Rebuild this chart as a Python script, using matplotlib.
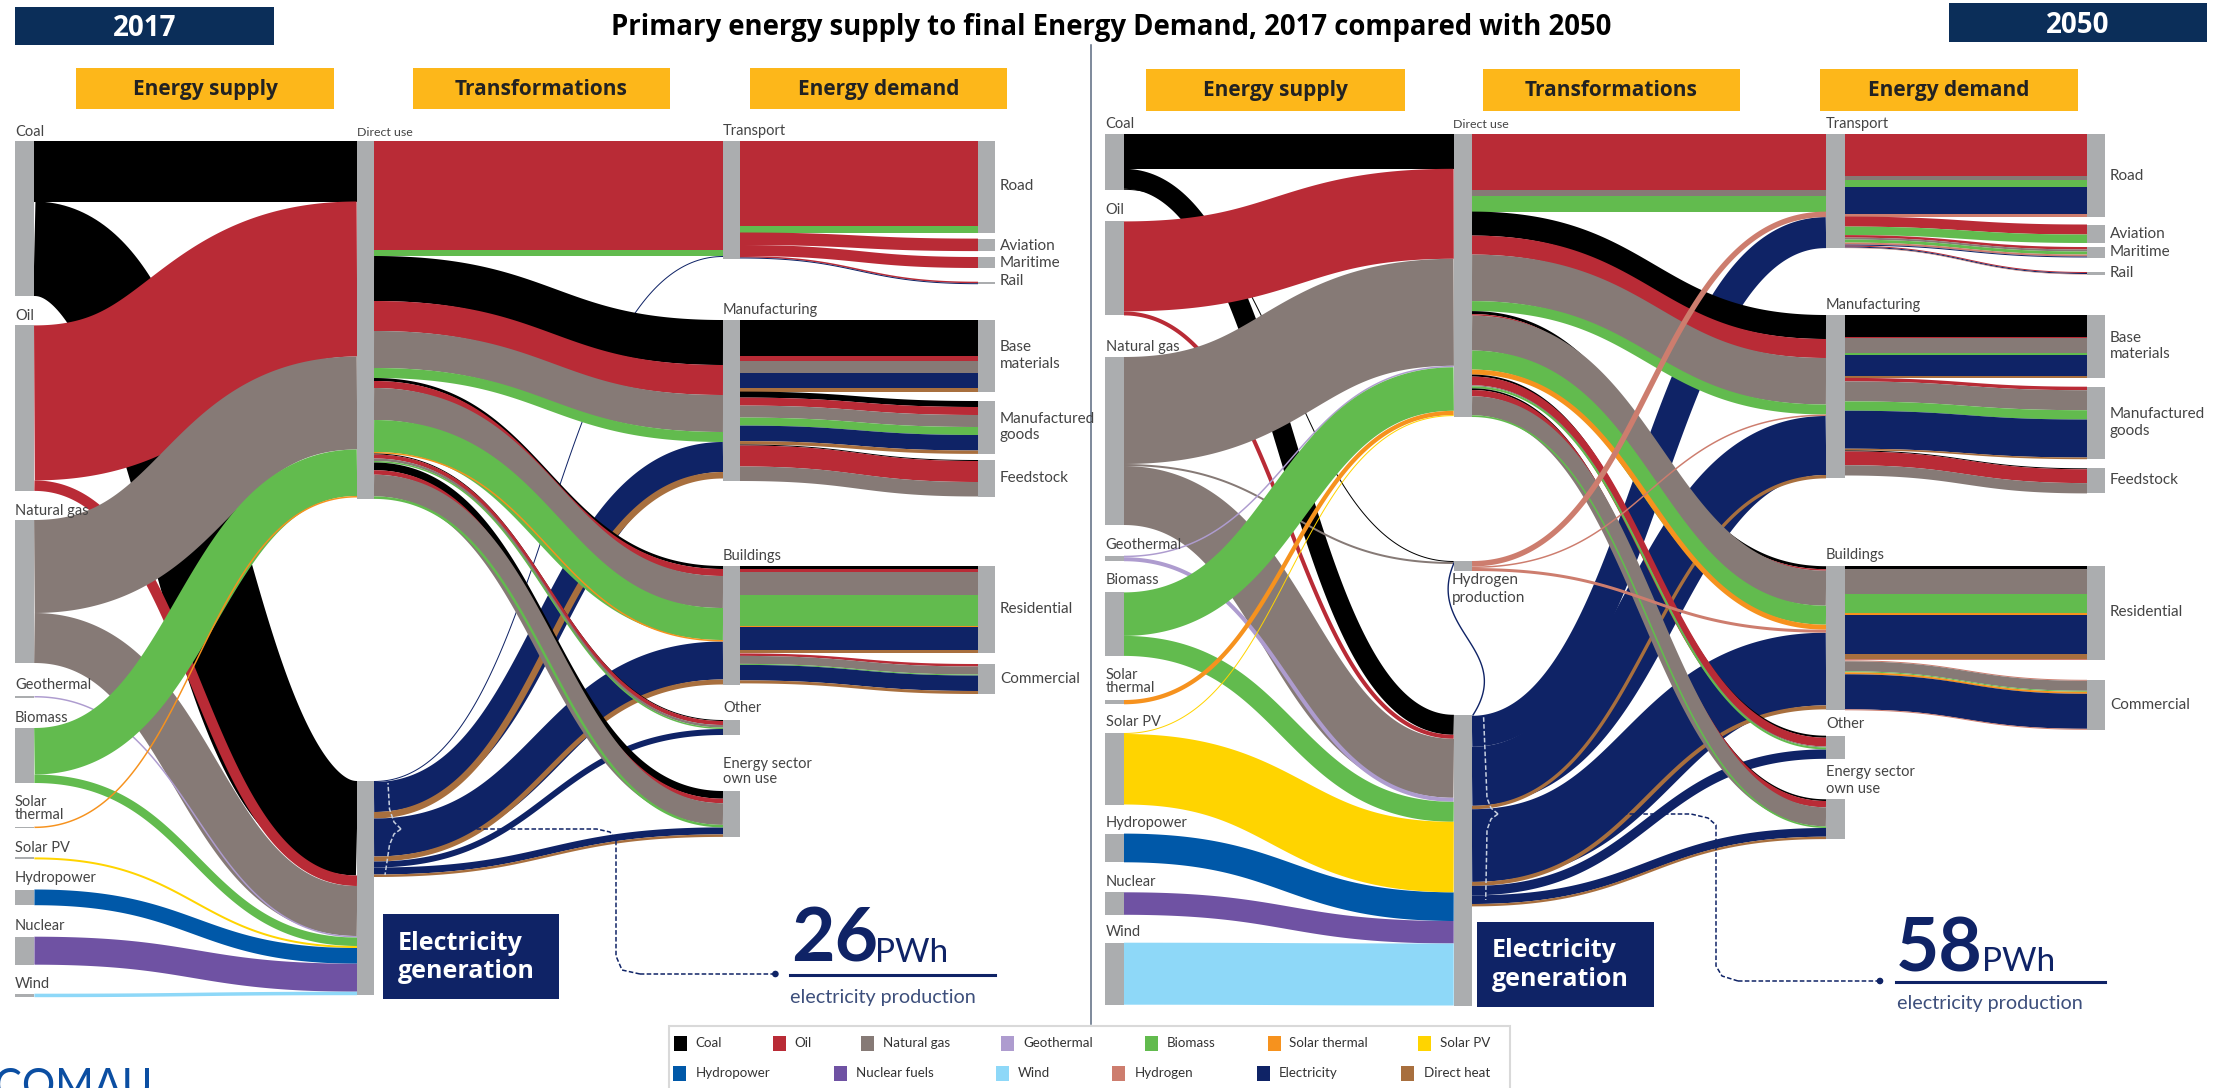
import matplotlib
matplotlib.use('Agg')
import matplotlib.pyplot as plt
from matplotlib.patches import Rectangle, Circle
import numpy as np

plt.rcParams['path.simplify'] = False

# colours of the energy carriers
colors = {'coal': '#000000', 'oil': '#B92B36', 'gas': '#867A76', 'geo': '#AE9CCF', 'bio': '#62BB4E',
          'sth': '#F6921E', 'spv': '#FFD400', 'hyd': '#0058A8', 'nuc': '#6F52A3', 'wind': '#8ED8F8',
          'h2': '#CD7D6E', 'elec': '#0F2366', 'heat': '#A86F3E'}
NODE_GREY = '#ABADAF'
NAVY = '#0F2366'

# flows of each panel: source node, target node, carrier, size
left_src = ['Coal', 'Coal', 'Oil', 'Oil', 'Gas', 'Gas', 'Geo', 'Bio', 'Bio', 'STh', 'SPV', 'Hydro', 'Nuc', 'Wind']
left_dst = ['Direct', 'Elec', 'Direct', 'Elec', 'Direct', 'Elec', 'Elec', 'Direct', 'Elec', 'Direct', 'Elec', 'Elec', 'Elec', 'Elec']
left_car = ['coal', 'coal', 'oil', 'oil', 'gas', 'gas', 'geo', 'bio', 'bio', 'sth', 'spv', 'hyd', 'nuc', 'wind']
left_val = [60.5, 94.5, 155, 10.5, 93, 50, 1.5, 46.5, 8.5, 1.5, 2, 15.7, 28, 3.5]

left_mid_src = ['Direct'] * 19 + ['Elec'] * 8
left_mid_dst = ['Transport', 'Transport', 'Manuf', 'Manuf', 'Manuf', 'Manuf', 'Build', 'Build', 'Build', 'Build', 'Build',
                'Other', 'Other', 'Other', 'Other', 'Energy', 'Energy', 'Energy', 'Energy',
                'Transport', 'Manuf', 'Manuf', 'Build', 'Build', 'Other', 'Energy', 'Energy']
left_mid_car = ['oil', 'bio', 'coal', 'oil', 'gas', 'bio', 'coal', 'oil', 'gas', 'bio', 'sth',
                'coal', 'oil', 'gas', 'bio', 'coal', 'oil', 'gas', 'bio',
                'elec', 'elec', 'heat', 'elec', 'heat', 'elec', 'elec', 'heat']
left_mid_val = [109, 6, 45, 30, 37, 10, 3, 7, 32, 32, 1.5, 1, 4, 2.5, 1.5, 7.7, 4.5, 21.7, 2.5,
                1, 30, 6.5, 38, 5, 6, 7, 2.5]

left_end_src = ['Transport'] * 6 + ['Manuf'] * 14 + ['Build'] * 12
left_end_dst = ['Road', 'Road', 'Aviation', 'Maritime', 'Rail', 'Rail',
                'Base', 'Base', 'Base', 'Base', 'Base', 'Goods', 'Goods', 'Goods', 'Goods', 'Goods', 'Goods',
                'Feed', 'Feed', 'Feed',
                'Resid', 'Resid', 'Resid', 'Resid', 'Resid', 'Resid', 'Resid', 'Comm', 'Comm', 'Comm', 'Comm', 'Comm']
left_end_car = ['oil', 'bio', 'oil', 'oil', 'oil', 'elec',
                'coal', 'oil', 'gas', 'elec', 'heat', 'coal', 'oil', 'gas', 'bio', 'elec', 'heat',
                'coal', 'oil', 'gas',
                'coal', 'oil', 'gas', 'bio', 'sth', 'elec', 'heat', 'oil', 'gas', 'bio', 'elec', 'heat']
left_end_val = [85, 6.5, 12.5, 11, 1.5, 1,
                36, 4.5, 12.7, 15, 3.4, 6, 8, 12, 8, 15.5, 3.4,
                1, 21, 14.5,
                2.5, 3.5, 22.7, 31, 1.5, 22.7, 3.5, 2.5, 8, 1, 15.5, 3]

right_src = ['Coal', 'Coal', 'Coal', 'Oil', 'Oil', 'Gas', 'Gas', 'Gas', 'Geo', 'Geo', 'Bio', 'Bio', 'STh', 'SPV', 'SPV', 'Hydro', 'Nuc', 'Wind']
right_dst = ['Direct', 'Elec', 'H2', 'Direct', 'Elec', 'Direct', 'H2', 'Elec', 'Direct', 'Elec', 'Direct', 'Elec', 'Direct', 'Direct', 'Elec', 'Elec', 'Elec', 'Elec']
right_car = ['coal', 'coal', 'coal', 'oil', 'oil', 'gas', 'gas', 'gas', 'geo', 'geo', 'bio', 'bio', 'sth', 'spv', 'spv', 'hyd', 'nuc', 'wind']
right_val = [34.5, 20, 1, 90, 4, 107, 2, 59, 1.5, 4, 43.5, 20, 4.3, 1, 70.5, 28.7, 22.5, 62]

right_mid_src = ['Direct'] * 20 + ['H2'] * 3 + ['Elec'] * 9
right_mid_dst = ['Transport', 'Transport', 'Transport', 'Manuf', 'Manuf', 'Manuf', 'Manuf', 'Build', 'Build', 'Build', 'Build', 'Build',
                 'Other', 'Other', 'Other', 'Other', 'Energy', 'Energy', 'Energy', 'Energy',
                 'Transport', 'Manuf', 'Build',
                 'H2x', 'Transport', 'Manuf', 'Manuf', 'Build', 'Build', 'Other', 'Energy', 'Energy']
right_mid_car = ['oil', 'gas', 'bio', 'coal', 'oil', 'gas', 'bio', 'coal', 'oil', 'gas', 'bio', 'sth',
                 'coal', 'oil', 'gas', 'bio', 'coal', 'oil', 'gas', 'bio',
                 'h2', 'h2', 'h2',
                 'elec', 'elec', 'elec', 'heat', 'elec', 'heat', 'elec', 'elec', 'heat']
right_mid_val = [55.8, 6, 15.5, 24, 19, 46.5, 10, 3, 1.5, 35, 19, 5, 2, 8.7, 1, 2, 1.7, 6.3, 19, 1.7,
                 5.5, 1.5, 3,
                 1, 31, 59, 3.4, 72.7, 4, 9.4, 8.7, 2.4]

right_end_src = ['Transport'] * 15 + ['Manuf'] * 14 + ['Build'] * 13
right_end_dst = ['Road', 'Road', 'Road', 'Road', 'Road', 'Aviation', 'Aviation', 'Maritime', 'Maritime', 'Maritime', 'Maritime', 'Maritime', 'Rail', 'Rail', 'Rail',
                 'Base', 'Base', 'Base', 'Base', 'Base', 'Base', 'Goods', 'Goods', 'Goods', 'Goods', 'Goods', 'Feed', 'Feed', 'Feed',
                 'Resid', 'Resid', 'Resid', 'Resid', 'Resid', 'Resid', 'Resid', 'Comm', 'Comm', 'Comm', 'Comm', 'Comm', 'Comm']
right_end_car = ['oil', 'gas', 'bio', 'elec', 'h2', 'oil', 'bio', 'oil', 'gas', 'bio', 'h2', 'elec', 'oil', 'elec', 'h2',
                 'coal', 'oil', 'gas', 'bio', 'elec', 'heat', 'oil', 'gas', 'bio', 'elec', 'heat', 'coal', 'oil', 'gas',
                 'coal', 'gas', 'bio', 'sth', 'elec', 'heat', 'h2', 'h2', 'gas', 'bio', 'sth', 'elec', 'h2']
right_end_val = [42, 3.4, 7, 27.5, 2.4, 10, 8.5, 2.5, 2, 3, 2, 1, 1, 1, .5,
                 21.7, 1.7, 14.5, 1.7, 21.3, 2, 3.5, 20, 9.3, 38, 1.7, 1, 13.8, 10.3,
                 2.8, 24.5, 19, 2.4, 39.5, 4.2, 1.7, 1, 10, 1, 2, 35, 1]

# where the node columns sit, in pixels of the 2220x1088 picture
left_x = {'c1': (15.4, 34.4), 'c2': (357, 374), 'c3': (723, 740), 'c4': (978, 995)}
right_x = {'c1': (1105.4, 1123.6), 'c2': (1453.7, 1472), 'c3': (1826, 1845), 'c4': (2087, 2105)}

left_tops = {'Coal': 141, 'Oil': 325.4, 'Gas': 520, 'Geo': 696, 'Bio': 728, 'STh': 826.6, 'SPV': 857.4, 'Hydro': 889.5, 'Nuc': 936.7, 'Wind': 993.7,
             'Direct': 141, 'Elec': 781, 'Transport': 141, 'Manuf': 320, 'Build': 566, 'Other': 720, 'Energy': 791,
             'Road': 141, 'Aviation': 238.6, 'Maritime': 257, 'Rail': 281.7, 'Base': 320, 'Goods': 401, 'Feed': 460, 'Resid': 566, 'Comm': 664}
right_tops = {'Coal': 134.3, 'Oil': 221.4, 'Gas': 357, 'Geo': 555.7, 'Bio': 592.4, 'STh': 700, 'SPV': 733, 'Hydro': 833.6, 'Nuc': 892.3, 'Wind': 942.7,
              'Direct': 134.3, 'H2': 561, 'Elec': 714.8, 'Transport': 134.3, 'Manuf': 315, 'Build': 566.2, 'Other': 735.7, 'Energy': 799.3,
              'Road': 134.3, 'Aviation': 224.5, 'Maritime': 247, 'Rail': 272, 'Base': 315, 'Goods': 386.7, 'Feed': 468.3, 'Resid': 566.2, 'Comm': 679.8}

c1 = ['Coal', 'Oil', 'Gas', 'Geo', 'Bio', 'STh', 'SPV', 'Hydro', 'Nuc', 'Wind']
c2 = ['Direct', 'Elec', 'H2']
c3 = ['Transport', 'Manuf', 'Build', 'Other', 'Energy']
c4 = ['Road', 'Aviation', 'Maritime', 'Rail', 'Base', 'Goods', 'Feed', 'Resid', 'Comm']

legend_row1 = ['Coal', 'Oil', 'Natural gas', 'Geothermal', 'Biomass', 'Solar thermal', 'Solar PV']
legend_row1_car = ['coal', 'oil', 'gas', 'geo', 'bio', 'sth', 'spv']
legend_row2 = ['Hydropower', 'Nuclear fuels', 'Wind', 'Hydrogen', 'Electricity', 'Direct heat']
legend_row2_car = ['hyd', 'nuc', 'wind', 'h2', 'elec', 'heat']

DPI = 100
fig = plt.figure(figsize=(22.2, 10.88), dpi=DPI)
ax = fig.add_axes([0, 0, 1, 1])
ax.set_xlim(0, 2220)
ax.set_ylim(1088, 0)
ax.axis('off')


def col_of(name):
    if name in c1:
        return 'c1'
    if name in c2:
        return 'c2'
    if name in c3:
        return 'c3'
    return 'c4'


def draw_ribbon(x0, y0, x1, y1, w, color, z):
    if abs(y1 - y0) < 0.6:
        # level flow, a plain band
        ax.fill([x0, x1, x1, x0], [y0 - w/2, y1 - w/2, y1 + w/2, y0 + w/2], color=color, lw=0, zorder=z)
        return
    t = np.linspace(0, 1, 160)
    mx = (x0 + x1) / 2
    xs = (1-t)**3*x0 + 3*(1-t)**2*t*mx + 3*(1-t)*t**2*mx + t**3*x1
    ys = (1-t)**3*y0 + 3*(1-t)**2*t*y0 + 3*(1-t)*t**2*y1 + t**3*y1
    dx, dy = np.gradient(xs, t), np.gradient(ys, t)
    ddx, ddy = np.gradient(dx, t), np.gradient(dy, t)
    speed = np.hypot(dx, dy)
    curv = np.abs(dx*ddy - dy*ddx) / speed**3
    clip = Rectangle((x0, 0), x1 - x0, 1088, transform=ax.transData)
    if curv.max() * w / 2 < 0.9:
        # gentle bend: outline the ribbon, the stroker leaves bumps on wide flat lines
        nx, ny = -dy / speed, dx / speed
        px = np.concatenate([xs + nx*w/2, (xs - nx*w/2)[::-1]])
        py = np.concatenate([ys + ny*w/2, (ys - ny*w/2)[::-1]])
        poly = ax.fill(px, py, color=color, lw=0, zorder=z)[0]
        poly.set_clip_path(clip)
    else:
        line, = ax.plot(xs, ys, color=color, lw=w * 72 / DPI, solid_capstyle='butt', solid_joinstyle='round', zorder=z)
        line.set_clip_path(clip)


def draw_panel(flows, tops, col_x):
    out_used, in_used = {}, {}
    for src, dst, car, val, z in flows:
        if dst == 'H2x':
            out_used[src] = out_used.get(src, 0) + val
            continue
        y0 = tops[src] + out_used.get(src, 0)
        y1 = tops[dst] + in_used.get(dst, 0)
        out_used[src] = out_used.get(src, 0) + val
        in_used[dst] = in_used.get(dst, 0) + val
        draw_ribbon(col_x[col_of(src)][1], y0 + val / 2, col_x[col_of(dst)][0], y1 + val / 2, val, colors[car], z)
    # grey node bars
    for name, top in tops.items():
        h = max(out_used.get(name, 0), in_used.get(name, 0))
        x0, x1 = col_x[col_of(name)]
        ax.add_patch(Rectangle((x0, top), x1 - x0, h, color=NODE_GREY, lw=0, zorder=10))


left_flows = []
for s, d, c, v in zip(left_src, left_dst, left_car, left_val):
    left_flows.append((s, d, c, v, {'Elec': 2, 'Direct': 4}[d] + (0.5 if c == 'sth' else 0)))
for s, d, c, v in zip(left_mid_src, left_mid_dst, left_mid_car, left_mid_val):
    left_flows.append((s, d, c, v, 3 if s == 'Elec' else 4))
for s, d, c, v in zip(left_end_src, left_end_dst, left_end_car, left_end_val):
    left_flows.append((s, d, c, v, 4))
draw_panel(left_flows, left_tops, left_x)

right_flows = []
for s, d, c, v in zip(right_src, right_dst, right_car, right_val):
    z = {'Elec': 2, 'H2': 3, 'Direct': 4}[d]
    right_flows.append((s, d, c, v, z + (0.5 if c in ('sth', 'spv') else 0)))
for s, d, c, v in zip(right_mid_src, right_mid_dst, right_mid_car, right_mid_val):
    right_flows.append((s, d, c, v, {'Elec': 3, 'Direct': 4, 'H2': 5}[s]))
for s, d, c, v in zip(right_end_src, right_end_dst, right_end_car, right_end_val):
    right_flows.append((s, d, c, v, 4))
draw_panel(right_flows, right_tops, right_x)

# thin electricity line looping back from generation to hydrogen
t = np.linspace(0, 1, 80)
p = np.array([[1473, 715], [1515, 650], [1425, 630], [1454, 563]])
bx = (1-t)**3*p[0, 0] + 3*(1-t)**2*t*p[1, 0] + 3*(1-t)*t**2*p[2, 0] + t**3*p[3, 0]
by = (1-t)**3*p[0, 1] + 3*(1-t)**2*t*p[1, 1] + 3*(1-t)*t**2*p[2, 1] + t**3*p[3, 1]
ax.plot(bx, by, color=NAVY, lw=1.0, zorder=5)

TITLE_FONT = ['Open Sans', 'DejaVu Sans']
LABEL_FONT = ['Lato', 'DejaVu Sans']

# banners and column headers
for x0, x1, y0, y1, s in [(15, 274, 7, 45, '2017'), (1949, 2207, 3.4, 41.7, '2050')]:
    ax.add_patch(Rectangle((x0, y0), x1 - x0, y1 - y0, color='#0B2E59', lw=0, zorder=1))
    ax.text((x0 + x1) / 2, (y0 + y1) / 2 + 2.5, s, color='white', fontsize=20, fontweight='bold', family=TITLE_FONT, ha='center', va='center', zorder=2)
ax.text(1111, 28, 'Primary energy supply to final Energy Demand, 2017 compared with 2050', fontsize=19.8, fontweight='bold',
        family=TITLE_FONT, ha='center', va='center')
for x0, x1, y0, y1, s in [(76, 334, 68, 109, 'Energy supply'), (412.6, 670, 68, 109, 'Transformations'), (749.5, 1007, 68, 109, 'Energy demand'),
                          (1146, 1405, 69, 110.5, 'Energy supply'), (1483, 1740, 69, 110.5, 'Transformations'), (1820, 2077.5, 69, 110.5, 'Energy demand')]:
    ax.add_patch(Rectangle((x0, y0), x1 - x0, y1 - y0, color='#FDB71A', lw=0, zorder=1))
    ax.text((x0 + x1) / 2, (y0 + y1) / 2 + 1, s, fontsize=15, fontweight='bold', family=TITLE_FONT, color='#222222', ha='center', va='center', zorder=2)
ax.plot([1091, 1091], [45, 1024], color='#5A6A80', lw=1.1, zorder=1)

# node labels
LAB = '#444444'
left_labels = [(15, 131.5, 'Coal'), (15, 316, 'Oil'), (15, 511, 'Natural gas'), (15, 685, 'Geothermal'), (15, 718, 'Biomass'),
               (15, 802, 'Solar'), (15, 815, 'thermal'), (15, 847.6, 'Solar PV'), (15, 878, 'Hydropower'), (15, 926, 'Nuclear'), (15, 984, 'Wind'),
               (357, 132, 'Direct use'), (723, 131.5, 'Transport'), (723, 310, 'Manufacturing'), (723, 555.7, 'Buildings'), (723, 708.5, 'Other'),
               (723, 763.7, 'Energy sector'), (723, 779.4, 'own use'),
               (1000, 186, 'Road'), (1000, 245.5, 'Aviation'), (1000, 263.4, 'Maritime'), (1000, 281, 'Rail'), (1000, 346.8, 'Base'), (1000, 364, 'materials'),
               (1000, 419, 'Manufactured'), (1000, 435, 'goods'), (1000, 478, 'Feedstock'), (1000, 609, 'Residential'), (1000, 679, 'Commercial')]
right_labels = [(1105.5, 124, 'Coal'), (1105.5, 210, 'Oil'), (1105.5, 346.8, 'Natural gas'), (1105.5, 545, 'Geothermal'), (1105.5, 580, 'Biomass'),
                (1105.5, 675, 'Solar'), (1105.5, 688.5, 'thermal'), (1105.5, 721.8, 'Solar PV'), (1105.5, 823, 'Hydropower'), (1105.5, 881.5, 'Nuclear'), (1105.5, 932.5, 'Wind'),
                (1453, 124, 'Direct use'), (1452, 580, 'Hydrogen'), (1452, 597.7, 'production'), (1826, 124, 'Transport'), (1826, 304.8, 'Manufacturing'),
                (1826, 555, 'Buildings'), (1826, 723.5, 'Other'), (1826, 771.7, 'Energy sector'), (1826, 789, 'own use'),
                (2110, 176, 'Road'), (2110, 234, 'Aviation'), (2110, 252, 'Maritime'), (2110, 273, 'Rail'), (2110, 338, 'Base'), (2110, 354, 'materials'),
                (2110, 414, 'Manufactured'), (2110, 431, 'goods'), (2110, 479.7, 'Feedstock'), (2110, 611.6, 'Residential'), (2110, 705, 'Commercial')]
for x, y, s in left_labels + right_labels:
    size = 8.9 if s == 'Direct use' else (11 if x in (1000, 2110) or s in ('Hydrogen', 'production') else 10.5)
    ax.text(x, y, s, fontsize=size, family=LABEL_FONT, color=LAB, ha='left', va='center', zorder=12)

# electricity generation boxes
for x0, x1, y0, y1 in [(382.5, 559, 914, 999), (1477, 1654, 921.7, 1006.6)]:
    ax.add_patch(Rectangle((x0, y0), x1 - x0, y1 - y0, color=NAVY, lw=0, zorder=11))
    ax.text(x0 + 15, y0 + 29, 'Electricity', color='white', fontsize=18, fontweight='bold', family=TITLE_FONT, va='center', zorder=12)
    ax.text(x0 + 15, y0 + 58, 'generation', color='white', fontsize=18, fontweight='bold', family=TITLE_FONT, va='center', zorder=12)

# PWh call-outs
for num, x, base, px, lx0, lx1, ly, ty in [('26', 791, 962, 875, 789.5, 995, 974.5, 997), ('58', 1896, 971, 1982, 1896, 2105, 981.5, 1004)]:
    ax.text(x, base, num, color=NAVY, fontsize=54, fontweight='bold', family=LABEL_FONT, va='baseline', zorder=12)
    ax.text(px, base, 'PWh', color=NAVY, fontsize=24, family=LABEL_FONT, va='baseline', zorder=12)
    ax.plot([lx0, lx1], [ly, ly], color=NAVY, lw=2.2, zorder=12)
    ax.text(lx0 + 1, ty, 'electricity production', color='#3D4F7C', fontsize=14.2, family=LABEL_FONT, va='center', zorder=12)

# dashed leaders from the call-outs to the generation nodes
DASH = (0, (3, 1.5))
ax.plot([775.4, 640], [974, 974], color=NAVY, lw=1.1, ls=DASH, zorder=12)
ax.plot([640, 622, 616, 616, 610, 596.5, 401], [974, 970, 956, 841, 832, 829, 829], color=NAVY, lw=1.1, ls=DASH, zorder=12)
ax.plot([401, 394, 389.5, 388], [829, 822, 809, 783], color='#C8D0E0', lw=1.1, ls=DASH, zorder=12)
ax.plot([401, 394, 389.5, 385], [829, 834, 845, 875], color='#C8D0E0', lw=1.1, ls=DASH, zorder=12)
ax.add_patch(Circle((775.4, 974), 2.6, color=NAVY, zorder=12))
ax.plot([1880, 1738], [981, 981], color=NAVY, lw=1.1, ls=DASH, zorder=12)
ax.plot([1738, 1722, 1716, 1716, 1708, 1691, 1498], [981, 976, 966, 825, 818, 814, 814], color=NAVY, lw=1.1, ls=DASH, zorder=12)
ax.plot([1498, 1491, 1487, 1483.5], [814, 808, 798, 715], color='#C8D0E0', lw=1.1, ls=DASH, zorder=12)
ax.plot([1498, 1491, 1487, 1485.7], [814, 819, 830, 900], color='#C8D0E0', lw=1.1, ls=DASH, zorder=12)
ax.add_patch(Circle((1880, 981), 2.6, color=NAVY, zorder=12))

# legend
ax.add_patch(Rectangle((668.7, 1026), 840.9, 70, facecolor='white', edgecolor='#D9D9D9', lw=1.5, zorder=1))
row1_sw = [674.4, 773, 861, 1000.5, 1145, 1267.5, 1418]
row1_tx = [695.7, 794, 883.4, 1023, 1167, 1288.7, 1439.7]
row2_sw = [673, 834, 996, 1112.4, 1257, 1400.6]
row2_tx = [695.7, 856, 1017.7, 1134.8, 1279, 1423.6]
for names, cars, sw, tx, y0 in [(legend_row1, legend_row1_car, row1_sw, row1_tx, 1036), (legend_row2, legend_row2_car, row2_sw, row2_tx, 1066)]:
    for n, c, a, b in zip(names, cars, sw, tx):
        ax.add_patch(Rectangle((a, y0), 13, 14.7, color=colors[c], lw=0, zorder=2))
        ax.text(b, y0 + 7.3, n, fontsize=9.6, family=LABEL_FONT, color='#333333', va='center', zorder=2)

# logo, cut by the lower edge as in the source slide
ax.text(-6, 1099, 'COMAU', fontsize=30, family=LABEL_FONT, color='#0B4EA2', va='baseline', ha='left', zorder=2)

fig.savefig('out.png', dpi=DPI)
